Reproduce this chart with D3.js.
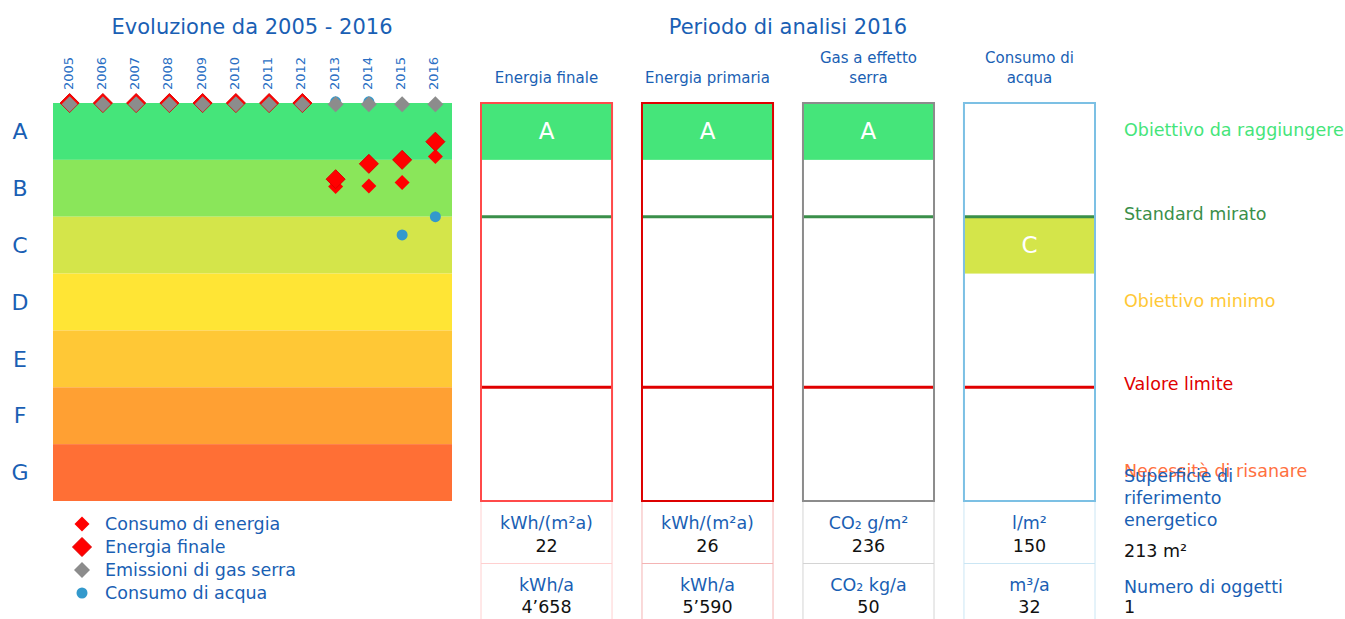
<!DOCTYPE html>
<html lang="it">
  <head>
    <meta charset="utf-8">
    <script src="https://d3js.org/d3.v7.min.js"></script>
    <style>
      body { margin: 0; background: #fff; }
      svg text { font-family: "DejaVu Sans", Verdana, sans-serif; }
    </style>
  </head>
  <body>
    <svg id="chart" width="1345" height="619"></svg>
    <script>

      // --- data ---
      var years = [2005, 2006, 2007, 2008, 2009, 2010, 2011, 2012, 2013, 2014, 2015, 2016];
      var classes = ["A", "B", "C", "D", "E", "F", "G"];
      var classColors = ["#45e57a", "#8ae65a", "#d4e54a", "#ffe535", "#ffc836", "#ffa033", "#ff6f35"];

      // class position (0 = top of A, 7 = bottom of G)
      var consumoEnergia = [0, 0, 0, 0, 0, 0, 0, 0, 1.47, 1.46, 1.40, 0.94];
      var energiaFinale  = [0, 0, 0, 0, 0, 0, 0, 0, 1.34, 1.07, 1.00, 0.68];
      var gasSerra       = [0.02, 0.02, 0.02, 0.02, 0.02, 0.02, 0.02, 0.02, 0.02, 0.02, 0.02, 0.02];
      var consumoAcqua   = [null, null, null, null, null, null, null, null, -0.02, -0.02, 2.32, 2.00];

      var columns = ["Energia finale", "Energia primaria", "Gas a effetto serra", "Consumo di acqua"];
      var columnLines = [["Energia finale"], ["Energia primaria"], ["Gas a effetto", "serra"], ["Consumo di", "acqua"]];
      var columnColors = ["#ff4a4a", "#dd0000", "#8c8c8c", "#7cc0e4"];
      var cellColors = ["#ffd0d0", "#f4b4b4", "#d4d4d4", "#cbe6f4"];
      var columnGrades = ["A", "A", "A", "C"];
      var units1 = ["kWh/(m²a)", "kWh/(m²a)", "CO₂ g/m²", "l/m²"];
      var values1 = ["22", "26", "236", "150"];
      var units2 = ["kWh/a", "kWh/a", "CO₂ kg/a", "m³/a"];
      var values2 = ["4’658", "5’590", "50", "32"];

      var targets = [
        {label: "Obiettivo da raggiungere", at: 0.5, color: "#45e57a"},
        {label: "Standard mirato", at: 2, color: "#3a8f4a", line: true},
        {label: "Obiettivo minimo", at: 3.5, color: "#ffc836"},
        {label: "Valore limite", at: 5, color: "#e00000", line: true},
        {label: "Necessità di risanare", at: 6.5, color: "#ff7040"}
      ];

      var legend = [
        {label: "Consumo di energia", shape: "diamond", r: 7.5, fill: "#ff0000"},
        {label: "Energia finale", shape: "diamond", r: 9.5, fill: "#ff0000", stroke: "#dd0000"},
        {label: "Emissioni di gas serra", shape: "diamond", r: 8, fill: "#8c8c8c"},
        {label: "Consumo di acqua", shape: "circle", r: 5.5, fill: "#3399cc"}
      ];

      var blue = "#1a5fb4";
      var fs = 17.5;

      // --- scales ---
      var svg = d3.select("#chart");
      var x = d3.scaleBand().domain(years).range([53, 452]);
      var y = d3.scaleLinear().domain([0, 7]).range([103, 501]);
      var xc = d3.scaleBand().domain(columns).range([481, 1095]).paddingInner(0.186);

      function diamond(r) {
        return "M0," + (-r) + "L" + r + ",0L0," + r + "L" + (-r) + ",0Z";
      }

      // titles
      svg.append("text")
        .attr("x", 252).attr("y", 34)
        .attr("text-anchor", "middle")
        .attr("font-size", 21).attr("fill", blue)
        .text("Evoluzione da 2005 - 2016");
      svg.append("text")
        .attr("x", 788).attr("y", 34)
        .attr("text-anchor", "middle")
        .attr("font-size", 21).attr("fill", blue)
        .text("Periodo di analisi 2016");

      // class bands
      svg.selectAll("rect.band")
        .data(classes)
        .enter().append("rect")
          .attr("class", "band")
          .attr("x", x.range()[0])
          .attr("width", x.range()[1] - x.range()[0])
          .attr("y", function(d, i) { return y(i); })
          .attr("height", function(d, i) { return y(i + 1) - y(i); })
          .attr("fill", function(d, i) { return classColors[i]; });

      svg.selectAll("text.cls")
        .data(classes)
        .enter().append("text")
          .attr("class", "cls")
          .attr("x", 20)
          .attr("y", function(d, i) { return y(i + 0.5); })
          .attr("dy", "0.35em")
          .attr("text-anchor", "middle")
          .attr("font-size", 22)
          .attr("fill", blue)
          .text(function(d) { return d; });

      // years
      svg.selectAll("text.year")
        .data(years)
        .enter().append("text")
          .attr("class", "year")
          .attr("transform", function(d) {
            return "translate(" + (x(d) + x.bandwidth() / 2 + 3) + ",90) rotate(-90)";
          })
          .attr("font-size", 13)
          .attr("fill", "#2a6fc4")
          .text(function(d) { return d; });

      // markers
      function series(vals) {
        return years.map(function(yr, i) { return {year: yr, v: vals[i]}; })
          .filter(function(d) { return d.v != null; });
      }
      function cx(d) { return x(d.year) + x.bandwidth() / 2; }

      svg.selectAll("path.energia")
        .data(series(consumoEnergia))
        .enter().append("path")
          .attr("d", diamond(7.5))
          .attr("transform", function(d) { return "translate(" + cx(d) + "," + y(d.v) + ")"; })
          .attr("fill", "#ff0000");

      svg.selectAll("path.finale")
        .data(series(energiaFinale))
        .enter().append("path")
          .attr("d", diamond(9.5))
          .attr("transform", function(d) { return "translate(" + cx(d) + "," + y(d.v) + ")"; })
          .attr("fill", "#ff0000")
          .attr("stroke", "#dd0000")
          .attr("stroke-width", 1);

      svg.selectAll("circle.acqua")
        .data(series(consumoAcqua))
        .enter().append("circle")
          .attr("cx", cx)
          .attr("cy", function(d) { return y(d.v); })
          .attr("r", 5.5)
          .attr("fill", "#3399cc");

      svg.selectAll("path.gas")
        .data(series(gasSerra))
        .enter().append("path")
          .attr("d", diamond(8))
          .attr("transform", function(d) { return "translate(" + cx(d) + "," + y(d.v) + ")"; })
          .attr("fill", "#8c8c8c");

      // legend
      var lg = svg.selectAll("g.legend")
        .data(legend)
        .enter().append("g")
          .attr("transform", function(d, i) { return "translate(82," + (524 + i * 23) + ")"; });
      lg.append("path")
        .attr("d", function(d) {
          return d.shape === "diamond" ? diamond(d.r) : d3.symbol(d3.symbolCircle, Math.PI * d.r * d.r)();
        })
        .attr("fill", function(d) { return d.fill; })
        .attr("stroke", function(d) { return d.stroke || "none"; });
      lg.append("text")
        .attr("x", 23)
        .attr("dy", "0.35em")
        .attr("font-size", fs)
        .attr("fill", blue)
        .text(function(d) { return d.label; });

      // columns
      var col = svg.selectAll("g.col")
        .data(columns)
        .enter().append("g")
          .attr("class", "col")
          .attr("transform", function(d) { return "translate(" + xc(d) + ",0)"; });
      var bw = xc.bandwidth();

      col.append("text")
        .attr("text-anchor", "middle")
        .attr("font-size", 15)
        .attr("fill", blue)
        .selectAll("tspan")
        .data(function(d, i) { return columnLines[i]; })
        .enter().append("tspan")
          .attr("x", bw / 2)
          .attr("y", function(d, i, n) { return 83 - (n.length - 1 - i) * 20; })
          .text(function(d) { return d; });

      col.append("rect")
        .attr("x", 0)
        .attr("width", bw)
        .attr("y", function(d, i) { return y(classes.indexOf(columnGrades[i])); })
        .attr("height", y(1) - y(0))
        .attr("fill", function(d, i) { return classColors[classes.indexOf(columnGrades[i])]; });
      col.append("text")
        .attr("x", bw / 2)
        .attr("y", function(d, i) { return y(classes.indexOf(columnGrades[i]) + 0.5); })
        .attr("dy", "0.35em")
        .attr("text-anchor", "middle")
        .attr("font-size", 23)
        .attr("fill", "#fff")
        .text(function(d, i) { return columnGrades[i]; });

      targets.filter(function(t) { return t.line; }).forEach(function(t) {
        col.append("line")
          .attr("x1", 0).attr("x2", bw)
          .attr("y1", y(t.at)).attr("y2", y(t.at))
          .attr("stroke", t.color)
          .attr("stroke-width", 3);
      });

      col.append("rect")
        .attr("x", 0).attr("y", y(0))
        .attr("width", bw).attr("height", y(7) - y(0))
        .attr("fill", "none")
        .attr("stroke", function(d, i) { return columnColors[i]; })
        .attr("stroke-width", 2);

      // bottom table
      [0, bw].forEach(function(px) {
        col.append("line")
          .attr("x1", px).attr("x2", px)
          .attr("y1", y(7) + 1).attr("y2", 619)
          .attr("stroke", function(d, i) { return cellColors[i]; });
      });
      col.append("line")
        .attr("x1", 0).attr("x2", bw)
        .attr("y1", 563.5).attr("y2", 563.5)
        .attr("stroke", function(d, i) { return cellColors[i]; });

      function cellText(arr, yy, color) {
        col.append("text")
          .attr("x", bw / 2).attr("y", yy)
          .attr("text-anchor", "middle")
          .attr("font-size", fs)
          .attr("fill", color)
          .text(function(d, i) { return arr[i]; });
      }
      cellText(units1, 529, blue);
      cellText(values1, 552, "#111");
      cellText(units2, 591, blue);
      cellText(values2, 613, "#111");

      // right labels
      svg.selectAll("text.target")
        .data(targets)
        .enter().append("text")
          .attr("x", 1124)
          .attr("y", function(d) { return y(d.at) - (d.line ? 3 : 1.5); })
          .attr("dy", "0.35em")
          .attr("font-size", fs)
          .attr("fill", function(d) { return d.color; })
          .text(function(d) { return d.label; });

      var info = [
        {text: "Superficie di", y: 482, color: blue},
        {text: "riferimento", y: 504, color: blue},
        {text: "energetico", y: 526, color: blue},
        {text: "213 m²", y: 557, color: "#111"},
        {text: "Numero di oggetti", y: 593, color: blue},
        {text: "1", y: 613, color: "#111"}
      ];
      svg.selectAll("text.info")
        .data(info)
        .enter().append("text")
          .attr("x", 1124)
          .attr("y", function(d) { return d.y; })
          .attr("font-size", fs)
          .attr("fill", function(d) { return d.color; })
          .text(function(d) { return d.text; });

    </script>
  </body>
</html>
